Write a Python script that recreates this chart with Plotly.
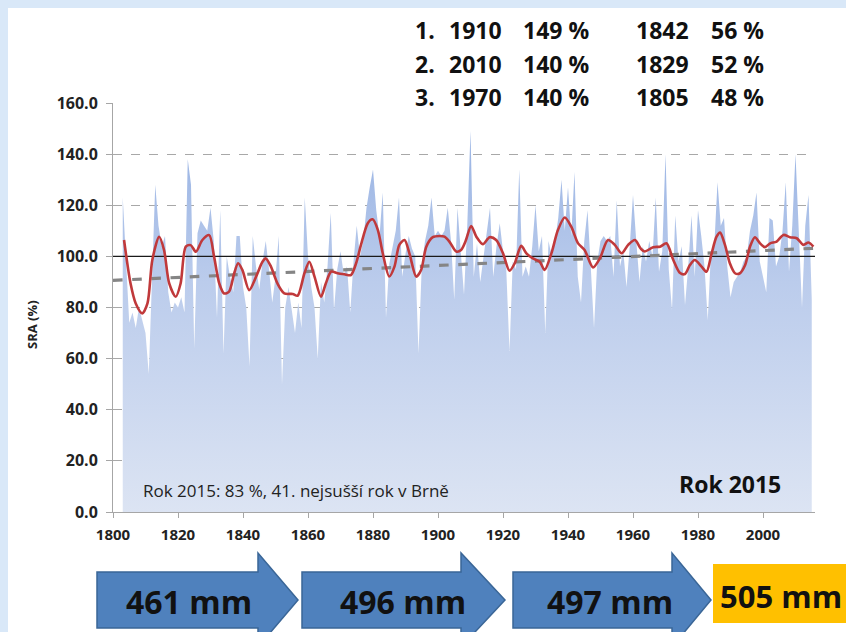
import plotly.graph_objects as go

# ---------------- data ----------------
first_year = 1803
sra_values = [
    123, 100, 74, 78, 72, 80, 75,                      # 1803-1809
    70, 54, 95, 128, 112, 104, 108, 86, 78, 82,        # 1810-1819
    80, 84, 78, 138, 128, 64, 109, 114, 112, 110,      # 1820-1829
    119, 106, 76, 118, 62, 100, 92, 86, 108, 108,      # 1830-1839
    88, 80, 57, 108, 96, 87, 98, 106, 95, 82,          # 1840-1849
    92, 108, 50, 80, 88, 78, 70, 82, 72, 123,          # 1850-1859
    100, 88, 80, 60, 90, 82, 96, 117, 79, 95,          # 1860-1869
    102, 93, 96, 78, 98, 112, 100, 106, 119, 127,      # 1870-1879
    134, 118, 108, 125, 76, 97, 104, 110, 123, 92,     # 1880-1889
    101, 108, 103, 100, 62, 96, 106, 112, 123, 108,    # 1890-1899
    110, 108, 110, 119, 106, 83, 119, 102, 85, 112,    # 1900-1909
    149, 92, 105, 90, 100, 108, 119, 92, 104, 113,     # 1910-1919
    102, 95, 63, 98, 95, 134, 92, 96, 92, 104,         # 1920-1929
    120, 102, 108, 70, 106, 100, 106, 115, 130, 110,   # 1930-1939
    127, 108, 133, 92, 82, 106, 118, 96, 72, 98,       # 1940-1949
    106, 108, 106, 108, 92, 122, 96, 102, 88, 104,     # 1950-1959
    124, 106, 90, 104, 98, 106, 100, 123, 94, 102,     # 1960-1969
    140, 95, 79, 116, 98, 104, 81, 96, 116, 92,        # 1970-1979
    118, 108, 96, 75, 102, 104, 129, 112, 115, 96,     # 1980-1989
    84, 90, 92, 94, 98, 100, 110, 116, 125, 98,        # 1990-1999
    92, 86, 115, 114, 96, 100, 110, 129, 94, 112,      # 2000-2009
    140, 108, 80, 112, 124, 83,                        # 2010-2015
]
years = list(range(first_year, first_year + len(sra_values)))

smooth_years = [
    1803.4, 1805.4, 1807.0, 1809.0, 1810.6, 1812.1, 1814.2, 1815.7, 1817.3, 1819.3,
    1820.8, 1822.4, 1823.9, 1825.5, 1827.5, 1829.6, 1831.1, 1832.7, 1834.2, 1835.7,
    1837.3, 1838.5, 1839.8, 1841.9, 1844.0, 1846.0, 1847.0, 1848.6, 1850.6, 1852.7,
    1855.3, 1856.8, 1858.9, 1860.4, 1862.0, 1864.0, 1865.5, 1867.1, 1869.1, 1871.2,
    1873.2, 1874.8, 1876.3, 1878.4, 1879.9, 1881.5, 1883.0, 1885.0, 1886.6, 1888.1,
    1889.7, 1891.2, 1893.3, 1894.8, 1896.4, 1898.4, 1900.5, 1902.0, 1903.5, 1905.6,
    1907.1, 1908.5, 1910.2, 1911.8, 1913.8, 1915.9, 1917.9, 1920.0, 1922.0, 1923.6,
    1925.6, 1927.2, 1929.2, 1931.3, 1932.8, 1934.9, 1936.9, 1939.0, 1941.0, 1943.1,
    1945.1, 1947.7, 1949.8, 1952.3, 1954.4, 1956.5, 1958.5, 1960.6, 1962.4, 1963.6,
    1966.2, 1968.3, 1970.3, 1972.4, 1974.4, 1976.0, 1977.5, 1979.0, 1981.1, 1982.6,
    1984.2, 1985.7, 1986.8, 1988.3, 1989.8, 1991.4, 1992.9, 1994.5, 1996.0, 1997.5,
    1999.1, 2000.6, 2002.2, 2004.2, 2006.3, 2008.3, 2010.4, 2012.4, 2014.0, 2015.5,
]
smooth_values = [
    106.4, 89.4, 81.6, 77.7, 81.6, 98.6, 107.7, 102.5, 89.4, 84.2,
    89.4, 103.8, 104.4, 101.8, 106.4, 108.3, 99.9, 89.4, 85.5, 86.2,
    93.4, 97.3, 94.7, 86.8, 92.0, 97.9, 99.2, 96.0, 89.4, 85.5,
    85.3, 84.6, 93.4, 97.9, 92.1, 84.2, 89.5, 94.0, 93.4, 93.0,
    92.7, 97.3, 104.5, 113.0, 114.5, 110.3, 101.2, 92.1, 96.0, 104.5,
    106.4, 101.2, 92.1, 94.7, 103.8, 107.5, 108.0, 107.7, 105.8, 101.9,
    102.5, 106.0, 111.9, 107.7, 104.8, 107.5, 106.4, 101.2, 94.4, 97.3,
    104.1, 101.2, 99.2, 97.9, 94.7, 101.2, 110.3, 115.2, 111.6, 105.1,
    102.5, 95.7, 99.2, 106.4, 104.5, 101.2, 104.5, 106.4, 103.0, 101.9,
    103.6, 103.8, 105.1, 98.6, 93.6, 93.1, 96.6, 98.6, 96.0, 94.0,
    101.2, 107.7, 109.3, 104.5, 97.3, 93.4, 93.4, 96.6, 103.8, 107.5,
    105.1, 103.6, 105.1, 105.8, 108.4, 107.5, 107.1, 104.5, 105.4, 103.8,
]

trend_years = [1800, 2016]
trend_values = [90.6, 103.2]

reference_level = 100
x_range = [1800, 2016]
y_range = [0, 160]
x_ticks = list(range(1800, 2001, 20))
y_ticks = list(range(0, 161, 20))

rank_rows = [
    ("1.", "1910", "149 %", "1842", "56 %"),
    ("2.", "2010", "140 %", "1829", "52 %"),
    ("3.", "1970", "140 %", "1805", "48 %"),
]
period_labels = ["461 mm", "496 mm", "497 mm", "505 mm"]
note_text = "Rok 2015: 83 %, 41. nejsušší rok v Brně"
year_label = "Rok 2015"
y_title = "SRA (%)"

# ---------------- layout helpers (pixel -> paper) ----------------
W, H = 846, 632
L, R, T, B = 113, 815, 103, 512


def xp(px):
    return (px - L) / (R - L)


def yp(py):
    return (B - py) / (B - T)


FONT = "Open Sans"
BLUE_BG = "#d9e8f8"

fig = go.Figure()

fig.add_trace(go.Scatter(
    x=years, y=sra_values, mode="lines", line=dict(width=0, color="#a9bfe7"),
    fill="tozeroy",
    fillgradient=dict(type="vertical", start=0, stop=150,
                      colorscale=[[0, "#dce4f3"], [0.6, "#bbccec"], [1, "#97b2e3"]]),
    hoverinfo="skip", showlegend=False,
))
fig.add_trace(go.Scatter(
    x=x_range, y=[reference_level, reference_level], mode="lines",
    line=dict(color="#1a1a1a", width=1.3), showlegend=False, hoverinfo="skip",
))
fig.add_trace(go.Scatter(
    x=trend_years, y=trend_values, mode="lines",
    line=dict(color="#858585", width=3.2, dash="dash"), showlegend=False, hoverinfo="skip",
))
fig.add_trace(go.Scatter(
    x=smooth_years, y=smooth_values, mode="lines",
    line=dict(color="#c0393b", width=2.6, shape="spline", smoothing=0.8),
    showlegend=False, hoverinfo="skip",
))

shapes = []
# white slide card
shapes.append(dict(type="rect", xref="paper", yref="paper", layer="below",
                   x0=xp(8), x1=xp(W + 5), y0=yp(8), y1=yp(H + 5),
                   fillcolor="white", line=dict(width=0)))
# white text box at top right (covers top gridline)
shapes.append(dict(type="rect", xref="paper", yref="paper", layer="above",
                   x0=xp(405), x1=xp(W + 5), y0=yp(8), y1=yp(112),
                   fillcolor="white", line=dict(width=0)))


def arrow_path(x0, xb, xt, ytop, ybot, yhtop, yhbot, ytip):
    pts = [(x0, ytop), (xb, ytop), (xb, yhtop), (xt, ytip), (xb, yhbot), (xb, ybot), (x0, ybot)]
    return "M " + " L ".join(f"{xp(a):.5f},{yp(b):.5f}" for a, b in pts) + " Z"


arrow_geo = [(97, 258, 298), (302, 461, 505), (513, 672, 711)]
for x0, xb, xt in arrow_geo:
    shapes.append(dict(type="path", xref="paper", yref="paper", layer="above",
                       path=arrow_path(x0, xb, xt, 572, 628, 553, 647, 600),
                       fillcolor="#4f81bd", line=dict(color="#3a6697", width=1.5)))
shapes.append(dict(type="rect", xref="paper", yref="paper", layer="above",
                   x0=xp(713), x1=xp(W + 5), y0=yp(564), y1=yp(623),
                   fillcolor="#ffc000", line=dict(width=0)))

annotations = []
col_left = [413, 447, 521, 634, 709]
row_y = [30, 64, 97]
for r, row in enumerate(rank_rows):
    for c, txt in enumerate(row):
        annotations.append(dict(xref="paper", yref="paper", x=xp(col_left[c]), y=yp(row_y[r]),
                                xanchor="left", yanchor="middle", showarrow=False, text=f"<b>{txt}</b>",
                                font=dict(family=FONT, size=23, color="#111111")))

label_cx = [189, 403, 610]
for cx, txt in zip(label_cx, period_labels[:3]):
    annotations.append(dict(xref="paper", yref="paper", x=xp(cx), y=yp(601), xanchor="center",
                            yanchor="middle", showarrow=False, text=f"<b>{txt}</b>",
                            font=dict(family=FONT, size=32, color="#111111")))
annotations.append(dict(xref="paper", yref="paper", x=xp(718), y=yp(596), xanchor="left",
                        yanchor="middle", showarrow=False, text=f"<b>{period_labels[3]}</b>",
                        font=dict(family=FONT, size=31, color="#111111")))

annotations.append(dict(xref="paper", yref="paper", x=xp(141), y=yp(490), xanchor="left",
                        yanchor="middle", showarrow=False, text=note_text,
                        font=dict(family=FONT, size=17, color="#222222")))
annotations.append(dict(xref="paper", yref="paper", x=xp(783), y=yp(484), xanchor="right",
                        yanchor="middle", showarrow=False, text=f"<b>{year_label}</b>",
                        font=dict(family=FONT, size=23, color="#111111")))
annotations.append(dict(xref="paper", yref="paper", x=xp(32), y=yp(325), xanchor="center",
                        yanchor="middle", showarrow=False, textangle=-90, text=f"<b>{y_title}</b>",
                        font=dict(family=FONT, size=13, color="#222222")))

fig.update_layout(
    width=W, height=H,
    margin=dict(l=L, r=W - R, t=T, b=H - B, pad=0),
    paper_bgcolor=BLUE_BG, plot_bgcolor="rgba(0,0,0,0)",
    shapes=shapes, annotations=annotations, showlegend=False,
    xaxis=dict(range=x_range, tickmode="array", tickvals=x_ticks,
               ticktext=[f"<b>{t}</b>" for t in x_ticks],
               showgrid=False, zeroline=False, showline=True, linecolor="#a6a6a6", linewidth=1,
               ticks="outside", ticklen=5, tickcolor="#a6a6a6", ticklabelstandoff=4,
               tickfont=dict(family=FONT, size=15, color="#222222")),
    yaxis=dict(range=y_range, tickmode="array", tickvals=y_ticks,
               ticktext=[f"<b>{t:.1f}</b>" for t in y_ticks],
               showgrid=True, gridcolor="#a8a8a8", griddash="dash", gridwidth=1,
               zeroline=False, showline=True, linecolor="#a6a6a6", linewidth=1,
               ticks="outside", ticklen=6, tickcolor="#a6a6a6", ticklabelstandoff=5,
               tickfont=dict(family=FONT, size=16, color="#222222")),
)

page_fix = (
    "document.body.style.margin='0';"
    "document.body.style.padding='0';"
    "document.body.style.overflow='hidden';"
    f"document.body.style.background='{BLUE_BG}';"
)
fig.write_html("out.html", post_script=page_fix, config={"displayModeBar": False})
